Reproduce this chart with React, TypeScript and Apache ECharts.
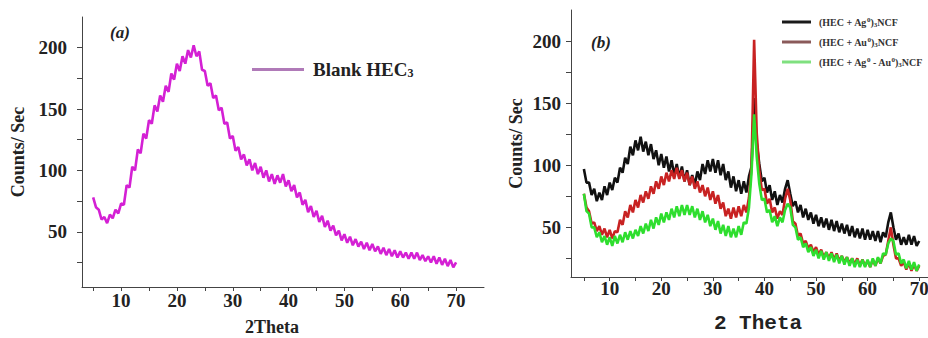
import React, { useEffect, useRef } from "react";
import * as echarts from "echarts";

// 2-theta sampling positions (degrees)
const theta = [
  5, 5.5, 6, 6.5, 7, 7.5, 8, 8.5, 9, 9.5,
  10, 10.5, 11, 11.5, 12, 12.5, 13, 13.5, 14, 14.5,
  15, 15.5, 16, 16.5, 17, 17.5, 18, 18.5, 19, 19.5,
  20, 20.5, 21, 21.5, 22, 22.5, 23, 23.5, 24, 24.5,
  25, 25.5, 26, 26.5, 27, 27.5, 28, 28.5, 29, 29.5,
  30, 30.5, 31, 31.5, 32, 32.5, 33, 33.5, 34, 34.5,
  35, 35.5, 36, 36.5, 37, 37.5, 38, 38.5, 39, 39.5,
  40, 40.5, 41, 41.5, 42, 42.5, 43, 43.5, 44, 44.5,
  45, 45.5, 46, 46.5, 47, 47.5, 48, 48.5, 49, 49.5,
  50, 50.5, 51, 51.5, 52, 52.5, 53, 53.5, 54, 54.5,
  55, 55.5, 56, 56.5, 57, 57.5, 58, 58.5, 59, 59.5,
  60, 60.5, 61, 61.5, 62, 62.5, 63, 63.5, 64, 64.5,
  65, 65.5, 66, 66.5, 67, 67.5, 68, 68.5, 69, 69.5,
  70,
];

// (a) Blank HEC3
const blankHEC3 = [
  78, 70, 68, 60, 62, 57, 64, 61, 68, 65,
  73, 72, 88, 86, 103, 100, 117, 114, 130, 126,
  141, 138, 153, 148, 161, 156, 169, 164, 179, 174,
  187, 181, 193, 187, 198, 192, 202, 193, 197, 182,
  181, 169, 171, 159, 161, 149, 151, 138, 139, 126,
  128, 116, 119, 109, 113, 104, 109, 100, 106, 97,
  103, 94, 100, 91, 97, 89, 96, 90, 97, 87,
  92, 83, 88, 78, 82, 72, 76, 66, 71, 62,
  67, 58, 63, 54, 59, 51, 55, 47, 51, 43,
  48, 41, 46, 39, 44, 38, 42, 36, 41, 35,
  40, 34, 38, 32, 37, 31, 36, 30, 35, 29,
  34, 29, 33, 28, 33, 28, 33, 27, 31, 26,
  30, 25, 30, 24, 29, 23, 28, 22, 27, 21,
  25,
];

// (b) (HEC + Ag0)3NCF
const agNCF = [
  97, 86, 86, 76, 81, 71, 78, 72, 83, 76,
  86, 80, 90, 86, 98, 94, 106, 101, 115, 108,
  120, 112, 123, 111, 119, 108, 117, 105, 112, 100,
  109, 98, 107, 95, 104, 92, 101, 90, 99, 87,
  96, 84, 92, 84, 95, 88, 101, 93, 104, 95,
  105, 94, 104, 92, 101, 88, 95, 82, 91, 79,
  88, 77, 87, 78, 91, 99, 154, 118, 101, 87,
  90, 78, 84, 72, 79, 68, 76, 70, 81, 88,
  77, 67, 71, 62, 68, 58, 65, 56, 62, 53,
  60, 51, 58, 50, 57, 48, 56, 47, 55, 46,
  53, 45, 52, 43, 51, 42, 49, 41, 49, 40,
  48, 40, 47, 39, 47, 38, 46, 42, 54, 62,
  50, 40, 45, 36, 42, 36, 44, 36, 43, 35,
  39,
];

// (b) (HEC + Au0)3NCF
const auNCF = [
  77, 66, 63, 53, 54, 47, 51, 44, 49, 42,
  48, 41, 47, 46, 56, 52, 63, 58, 68, 62,
  72, 66, 76, 70, 79, 73, 83, 77, 87, 81,
  91, 84, 94, 87, 96, 89, 98, 89, 96, 87,
  94, 84, 91, 81, 87, 78, 84, 75, 82, 72,
  79, 69, 76, 65, 70, 59, 65, 57, 66, 58,
  67, 59, 68, 62, 74, 99, 201, 126, 96, 80,
  81, 69, 73, 62, 66, 57, 63, 60, 73, 81,
  72, 55, 53, 43, 45, 37, 39, 33, 36, 30,
  34, 28, 32, 26, 30, 25, 30, 24, 29, 23,
  27, 22, 26, 21, 25, 20, 25, 19, 24, 19,
  23, 18, 24, 19, 25, 21, 27, 28, 39, 50,
  36, 25, 25, 19, 22, 16, 21, 15, 20, 15,
  19,
];

// (b) (HEC + Ag0 - Au0)3NCF
const agAuNCF = [
  77, 63, 61, 50, 50, 42, 46, 38, 43, 36,
  42, 35, 43, 37, 44, 38, 46, 40, 47, 41,
  48, 43, 51, 45, 53, 47, 56, 49, 58, 52,
  61, 54, 62, 56, 65, 58, 67, 59, 68, 60,
  68, 60, 67, 58, 65, 56, 63, 54, 60, 51,
  57, 48, 55, 45, 52, 43, 51, 42, 49, 42,
  51, 44, 54, 53, 66, 94, 141, 107, 85, 72,
  73, 62, 64, 54, 59, 51, 58, 54, 64, 69,
  66, 52, 50, 40, 42, 34, 37, 30, 34, 27,
  32, 25, 31, 24, 30, 23, 29, 22, 28, 21,
  27, 20, 26, 19, 25, 18, 24, 18, 24, 18,
  24, 18, 25, 19, 26, 21, 29, 28, 37, 41,
  39, 28, 29, 21, 24, 17, 23, 16, 22, 15,
  20,
];

const xTickValues = [5, 10, 15, 20, 25, 30, 35, 40, 45, 50, 55, 60, 65, 70];
const xLabelValues = [10, 20, 30, 40, 50, 60, 70];
const yTickValues = [25, 50, 75, 100, 125, 150, 175, 200];
const yLabelValues = [50, 100, 150, 200];

const nameA = "Blank HEC3";
const namesB = ["(HEC + Ag0)3NCF", "(HEC + Au0)3NCF", "(HEC + Ag0 - Au0)3NCF"];
const richNames: Record<string, string> = {
  "Blank HEC3": "Blank HEC{sub|3}",
  "(HEC + Ag0)3NCF": "(HEC + Ag{sup|0}){sub|3}NCF",
  "(HEC + Au0)3NCF": "(HEC + Au{sup|0}){sub|3}NCF",
  "(HEC + Ag0 - Au0)3NCF": "(HEC + Ag{sup|0} - Au{sup|0}){sub|3}NCF",
};

const SERIF = "'Liberation Serif', 'Times New Roman', serif";
const MONO = "'Liberation Mono', 'DejaVu Sans Mono', monospace";

const pairs = (ys: number[]) => theta.map((t, i) => [t, ys[i]]);

export default function App() {
  const ref = useRef<HTMLDivElement>(null);
  useEffect(() => {
    if (!ref.current) return;
    const chart = echarts.init(ref.current, null, { renderer: "svg" });
    const axisColor = "#444";
    const labelStyle = {
      fontFamily: SERIF,
      fontWeight: "bold" as const,
      fontSize: 19,
      color: "#222",
    };
    const mkX = (gridIndex: number, min: number, name: string, nameStyle: any, margin: number, nameGap: number) => ({
      type: "value",
      gridIndex,
      min,
      max: 75,
      axisLine: { show: true, onZero: false, lineStyle: { color: axisColor, width: 1 } },
      axisTick: { show: true, customValues: xTickValues, length: 4, lineStyle: { color: axisColor } },
      axisLabel: { customValues: xLabelValues, margin, ...labelStyle },
      splitLine: { show: false },
      name,
      nameLocation: "middle",
      nameGap,
      nameTextStyle: nameStyle,
    });
    const mkY = (gridIndex: number, min: number, nameGap: number, margin: number) => ({
      type: "value",
      gridIndex,
      min,
      max: 225,
      axisLine: { show: true, onZero: false, lineStyle: { color: axisColor, width: 1 } },
      axisTick: { show: true, customValues: yTickValues, length: 5, lineStyle: { color: axisColor } },
      axisLabel: { customValues: yLabelValues, margin, ...labelStyle },
      splitLine: { show: false },
      name: "Counts/ Sec",
      nameLocation: "middle",
      nameGap,
      nameRotate: 90,
      nameTextStyle: { fontFamily: SERIF, fontWeight: "bold", fontSize: 18, color: "#222" },
    });
    const option = {
      animation: false,
      textStyle: { fontFamily: SERIF },
      grid: [
        { left: 82, top: 17, width: 402, height: 270, containLabel: false, outerBoundsMode: "none" },
        { left: 571, top: 10, width: 374, height: 267, containLabel: false, outerBoundsMode: "none" },
      ],
      xAxis: [
        mkX(0, 3, "2Theta", { fontFamily: SERIF, fontWeight: "bold", fontSize: 18, color: "#222", padding: [0, 22, 0, 0] }, 4, 31),
        mkX(1, 2.5, "2 Theta", { fontFamily: MONO, fontWeight: "bold", fontSize: 21, color: "#222" }, 2, 36),
      ],
      yAxis: [mkY(0, 5, 55, 15), mkY(1, 10, 46, 10)],
      legend: [
        {
          data: [{ name: nameA, itemStyle: { color: "#b07ab8" } }],
          icon: "rect",
          left: 247,
          top: 55,
          itemWidth: 52,
          itemHeight: 3,
          itemGap: 8,
          formatter: (n: string) => richNames[n] || n,
          textStyle: {
            fontFamily: SERIF,
            fontWeight: "bold",
            fontSize: 19,
            color: "#222",
            padding: [0, 0, 0, 4],
            rich: {
              sub: { fontFamily: SERIF, fontWeight: "bold", fontSize: 12, color: "#222", verticalAlign: "bottom", lineHeight: 14 },
            },
          },
        },
        {
          data: [
            { name: namesB[0], itemStyle: { color: "#1a1a1a" } },
            { name: namesB[1], itemStyle: { color: "#8a5a5a" } },
            { name: namesB[2], itemStyle: { color: "#7fe07f" } },
          ],
          icon: "rect",
          orient: "vertical",
          left: 777,
          top: 11,
          itemWidth: 29,
          itemHeight: 3,
          itemGap: 8,
          formatter: (n: string) => richNames[n] || n,
          textStyle: {
            fontFamily: SERIF,
            fontWeight: "bold",
            fontSize: 10,
            lineHeight: 12,
            color: "#333",
            padding: [0, 0, 0, 3],
            rich: {
              sup: { fontFamily: SERIF, fontWeight: "bold", fontSize: 7, color: "#333", verticalAlign: "top", lineHeight: 10 },
              sub: { fontFamily: SERIF, fontWeight: "bold", fontSize: 7, color: "#333", verticalAlign: "bottom", lineHeight: 10 },
            },
          },
        },
      ],
      graphic: [
        {
          type: "text",
          left: 110,
          top: 24,
          style: { text: "(a)", fontFamily: SERIF, fontWeight: "bold", fontStyle: "italic", fontSize: 17, fill: "#222" },
        },
        {
          type: "text",
          left: 591,
          top: 34,
          style: { text: "(b)", fontFamily: SERIF, fontWeight: "bold", fontStyle: "italic", fontSize: 17, fill: "#222" },
        },
      ],
      series: [
        {
          name: nameA,
          type: "line",
          xAxisIndex: 0,
          yAxisIndex: 0,
          data: pairs(blankHEC3),
          symbol: "none",
          lineStyle: { color: "#d420d4", width: 2.6 },
          itemStyle: { color: "#d420d4" },
        },
        {
          name: namesB[0],
          type: "line",
          xAxisIndex: 1,
          yAxisIndex: 1,
          data: pairs(agNCF),
          symbol: "none",
          lineStyle: { color: "#111111", width: 2.6 },
          itemStyle: { color: "#111111" },
        },
        {
          name: namesB[1],
          type: "line",
          xAxisIndex: 1,
          yAxisIndex: 1,
          data: pairs(auNCF),
          symbol: "none",
          lineStyle: { color: "#c82222", width: 2.6 },
          itemStyle: { color: "#c82222" },
        },
        {
          name: namesB[2],
          type: "line",
          xAxisIndex: 1,
          yAxisIndex: 1,
          data: pairs(agAuNCF),
          symbol: "none",
          lineStyle: { color: "#2ede2e", width: 2.6 },
          itemStyle: { color: "#2ede2e" },
        },
      ],
    };
    chart.setOption(option as any);
    return () => chart.dispose();
  }, []);
  return (
    <div
      ref={ref}
      style={{ position: "absolute", left: 0, top: 0, width: 928, height: 338, background: "#fff", overflow: "hidden" }}
    />
  );
}
